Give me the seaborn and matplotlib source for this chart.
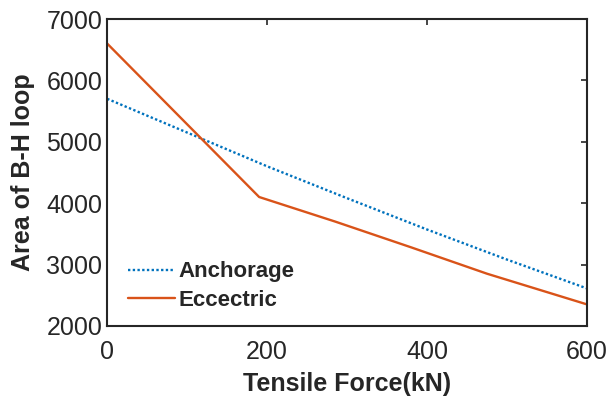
import pandas as pd
import matplotlib
matplotlib.use("Agg")
import matplotlib.pyplot as plt
import seaborn as sns

# values
anchor_force = [0, 100, 200, 300, 400, 500, 600]
anchor_area = [5700, 5150, 4600, 4080, 3570, 3080, 2610]
ecc_force = [0, 190, 285, 380, 475, 600]
ecc_area = [6600, 4100, 3700, 3280, 2850, 2350]

df = pd.concat([
    pd.DataFrame({"force": anchor_force, "area": anchor_area, "series": "Anchorage"}),
    pd.DataFrame({"force": ecc_force, "area": ecc_area, "series": "Eccectric"}),
])

sns.set_style("white")
plt.rcParams["font.family"] = ["Liberation Sans", "DejaVu Sans"]

fig = plt.figure(figsize=(6.09, 3.96), dpi=100)
ax = fig.add_axes([0.176, 0.177, 0.788, 0.775])

sns.lineplot(data=df, x="force", y="area", hue="series", style="series",
             palette={"Anchorage": "#0072BD", "Eccectric": "#D95319"},
             dashes={"Anchorage": (1, 1), "Eccectric": ""},
             linewidth=1.7, sort=False, ax=ax)

ax.set_xlim(0, 600)
ax.set_ylim(2000, 7000)
ax.set_xticks([0, 200, 400, 600])
ax.set_yticks([2000, 3000, 4000, 5000, 6000, 7000])
ax.tick_params(direction="in", labelsize=18, length=4, width=1.2, colors="#262626",
               top=True, right=True)
ax.tick_params(axis="x", pad=10)
for s in ax.spines.values():
    s.set_linewidth(1.5)
    s.set_color("#262626")
ax.set_xlabel("Tensile Force(kN)", fontsize=18, fontweight="bold", color="#262626",
              labelpad=6)
ax.set_ylabel("Area of B-H loop", fontsize=18, fontweight="bold", color="#262626",
              labelpad=8)

leg = ax.legend(loc="upper left", frameon=False, fontsize=16, handlelength=2.1,
                handletextpad=0.15, borderaxespad=0, borderpad=0, labelspacing=0.35,
                bbox_to_anchor=(0.044, 0.21))
for t in leg.get_texts():
    t.set_fontweight("bold")

fig.savefig("out.png", dpi=100)
